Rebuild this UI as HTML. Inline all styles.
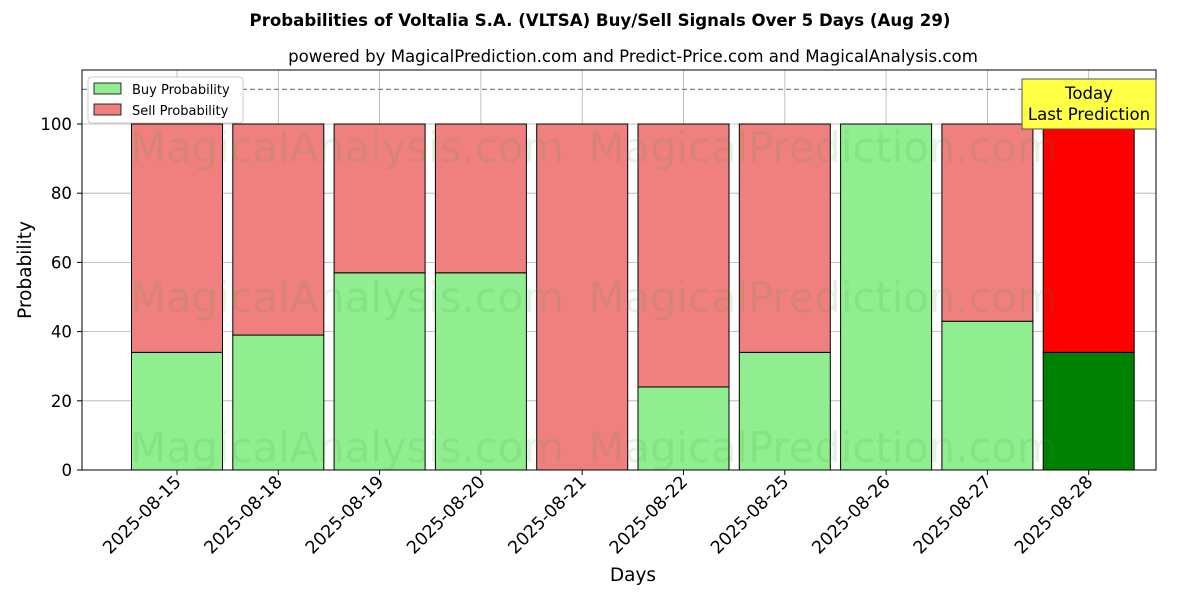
<!DOCTYPE html>
<html><head><meta charset="utf-8"><style>
body{margin:0;background:#fff;}
svg text{font-family:"DejaVu Sans","Liberation Sans",sans-serif;}
</style></head><body>
<svg id="chart" width="1200" height="600" xmlns="http://www.w3.org/2000/svg">
<text x="600" y="26" text-anchor="middle" font-size="16.6" font-weight="bold">Probabilities of Voltalia S.A. (VLTSA) Buy/Sell Signals Over 5 Days (Aug 29)</text>
<text x="633" y="62" text-anchor="middle" font-size="16.6">powered by MagicalPrediction.com and Predict-Price.com and MagicalAnalysis.com</text>
<g id="grid"></g>
<g id="bars"></g>
<g id="wm" fill="#2ca02c" opacity="0.12" font-size="41.7">
<text x="347" y="162" text-anchor="middle">MagicalAnalysis.com</text>
<text x="823" y="162" text-anchor="middle">MagicalPrediction.com</text>
<text x="347" y="312" text-anchor="middle">MagicalAnalysis.com</text>
<text x="823" y="312" text-anchor="middle">MagicalPrediction.com</text>
<text x="347" y="462" text-anchor="middle">MagicalAnalysis.com</text>
<text x="823" y="462" text-anchor="middle">MagicalPrediction.com</text>
</g>
<line x1="82" x2="1156" y1="89.4" y2="89.4" stroke="#808080" stroke-dasharray="5,3" stroke-width="1.2"/>
<rect x="82" y="70" width="1074" height="400" fill="none" stroke="#000" stroke-width="1"/>
<g id="axes"></g>
<text transform="translate(31,270) rotate(-90)" text-anchor="middle" font-size="18.5">Probability</text>
<text x="633" y="581" text-anchor="middle" font-size="18.5">Days</text>
<g>
<rect x="88" y="77" width="155" height="46" fill="#fff" stroke="#ccc" rx="3"/>
<rect x="94" y="83" width="27" height="11" fill="#90ee90" stroke="#000" stroke-width="0.8"/>
<text x="132" y="94" font-size="13">Buy Probability</text>
<rect x="94" y="104" width="27" height="11" fill="#f08080" stroke="#000" stroke-width="0.8"/>
<text x="132" y="115" font-size="13">Sell Probability</text>
</g>
<g>
<rect x="1022" y="79" width="134" height="50" fill="#ffff44" stroke="#555" stroke-width="1"/>
<text x="1089" y="99" text-anchor="middle" font-size="16.6">Today</text>
<text x="1089" y="120" text-anchor="middle" font-size="16.6">Last Prediction</text>
</g>
</svg>
<script>
const categories=["2025-08-15","2025-08-18","2025-08-19","2025-08-20","2025-08-21","2025-08-22","2025-08-25","2025-08-26","2025-08-27","2025-08-28"];
const buyValues=[34,39,57,57,0,24,34,100,43,34];
const sellValues=[66,61,43,43,100,76,66,0,57,66];
const yTicks=[0,20,40,60,80,100];
const NS="http://www.w3.org/2000/svg";
const xs=i=>177+i*101.3;
const ys=v=>470-v*3.46;
const bw=91;
function mk(tag,attrs,parent){const e=document.createElementNS(NS,tag);for(const k in attrs)e.setAttribute(k,attrs[k]);parent.appendChild(e);return e;}
const grid=document.getElementById('grid'),bars=document.getElementById('bars'),axes=document.getElementById('axes');
yTicks.forEach(t=>{
 const g=mk('line',{x1:82,x2:1156,y1:ys(t),y2:ys(t),stroke:'#b0b0b0','stroke-width':0.8},grid);
 
 
 mk('line',{x1:77,x2:82,y1:ys(t),y2:ys(t),stroke:'#000'},axes);
 const tx=mk('text',{x:72,y:ys(t)+6,'text-anchor':'end','font-size':16.6},axes);
 tx.textContent=t;
 
 
});
categories.forEach((c,i)=>{
 const x=xs(i);
 const g=mk('line',{x1:x,x2:x,y1:70,y2:470,stroke:'#b0b0b0','stroke-width':0.8},grid);
 
 
 const last=i===categories.length-1;
 const b=mk('rect',{x:x-bw/2,y:ys(buyValues[i]),width:bw,height:buyValues[i]*3.46,fill:last?'#008000':'#90ee90',stroke:'#000','stroke-width':1},bars);
 
 
 const s=mk('rect',{x:x-bw/2,y:ys(buyValues[i]+sellValues[i]),width:bw,height:sellValues[i]*3.46,fill:last?'#ff0000':'#f08080',stroke:'#000','stroke-width':1},bars);
 
 
 mk('line',{x1:x,x2:x,y1:470,y2:475,stroke:'#000'},axes);
 const tx=mk('text',{transform:`translate(${x+5},${483}) rotate(-45)`,'text-anchor':'end','font-size':17.5},axes);
 tx.textContent=c;
 
 
});
</script>
</body></html>
